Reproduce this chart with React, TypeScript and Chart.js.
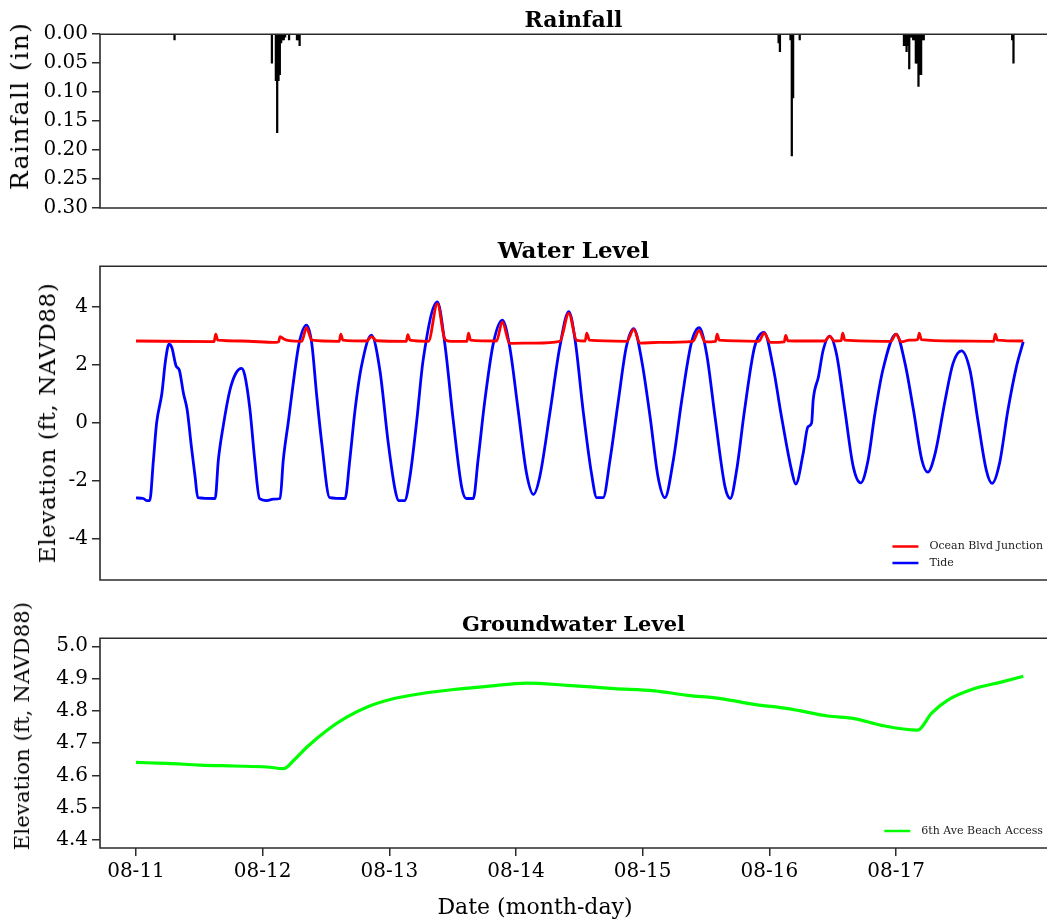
import React, { useEffect, useRef } from "react";
import { Chart, registerables } from "chart.js";

Chart.register(...registerables);

// ---------- shared x range (hours since 08-11 00:00) ----------
const X_MIN = -6.82;
const X_MAX = 172.6;
const dayTickHours = [0, 24, 48, 72, 96, 120, 144];
const dayTickLabels = ["08-11", "08-12", "08-13", "08-14", "08-15", "08-16", "08-17"];

// ---------- Rainfall ----------
const rainHours = [
  7.3, 25.75, 26.5, 26.75, 27.0, 27.25, 27.5, 27.75, 28.0, 28.25, 29.0, 30.5, 30.75, 31.0,
  121.75, 122.0, 124.0, 124.25, 124.5, 125.75,
  145.5, 145.75, 146.0, 146.25, 146.5, 146.75, 147.0, 147.25, 147.5, 147.75, 148.0, 148.25,
  148.5, 148.75, 149.0, 149.25, 166.0, 166.25,
];
const rainInches = [
  0.01, 0.05, 0.08, 0.17, 0.08, 0.07, 0.015, 0.01, 0.01, 0.005, 0.01, 0.01, 0.01, 0.02,
  0.015, 0.03, 0.01, 0.21, 0.11, 0.01,
  0.02, 0.02, 0.03, 0.02, 0.06, 0.005, 0.005, 0.01, 0.01, 0.05, 0.05, 0.09,
  0.07, 0.07, 0.01, 0.01, 0.01, 0.05,
];
const rainTicks = [0, 0.05, 0.1, 0.15, 0.2, 0.25, 0.3];
const rainTickLabels = ["0.00", "0.05", "0.10", "0.15", "0.20", "0.25", "0.30"];

// ---------- Water level ----------
const tideHours = [
  0, 1.4, 2.0, 2.6, 3.3, 3.9, 4.9, 5.6, 6.25, 6.8, 7.6, 8.2, 9.0, 9.7, 10.5, 11.2, 11.7,
  15.0, 15.6, 16.5, 17.8, 18.9, 20.0, 20.6, 21.6, 22.5, 23.4, 24.8, 26.0, 27.3,
  27.9, 28.9, 29.7, 30.9, 32.3, 33.3, 34.2, 35.2, 36.7, 39.6,
  40.5, 41.5, 42.7, 44.6, 46.2, 47.8, 49.1, 49.7, 50.9,
  51.9, 53.2, 54.4, 57.1, 58.5, 60.1, 61.7, 62.6, 63.9,
  64.8, 66.1, 67.7, 69.4, 70.8, 72.4, 74.0, 75.3,
  76.5, 78.4, 80.3, 82.0, 83.2, 84.7, 86.3, 87.3, 88.5,
  89.8, 91.4, 92.9, 94.3, 95.8, 97.4, 98.9, 100.2,
  101.8, 103.4, 105.2, 106.7, 108.1, 109.7, 111.6, 112.6,
  113.8, 115.3, 117.2, 119.0, 120.7, 122.3, 124.2, 125.0,
  126.4, 127.3, 128.0, 128.3, 129.3, 130.2, 131.4, 132.7, 134.3, 135.9, 137.3,
  138.7, 140.0, 141.5, 144.0, 145.7, 147.3, 148.9, 150.0,
  151.4, 153.3, 154.8, 156.4, 158.0, 159.5, 161.1, 162.2,
  163.6, 165.2, 166.8, 168.1,
];
const tideFeet = [
  -2.58, -2.6, -2.67, -2.67, -1.28, 0, 1.02, 2.17, 2.72, 2.6, 1.97, 1.83, 1.02, 0.45, -0.82, -1.85, -2.57,
  -2.6, -1.28, -0.13, 1.14, 1.71, 1.89, 1.66, 0.45, -1.28, -2.6, -2.67, -2.62, -2.6,
  -1.28, 0.1, 1.25, 2.75, 3.38, 2.75, 1.02, -0.7, -2.57, -2.6,
  -1.28, 0.45, 1.94, 3.03, 1.83, -0.7, -2.31, -2.67, -2.67,
  -1.85, 0.1, 2.17, 4.18, 2.75, 0.1, -2.2, -2.6, -2.6,
  -1.28, 0.79, 2.75, 3.55, 2.63, 0.45, -1.74, -2.46,
  -1.85, 0.33, 2.63, 3.84, 2.86, 0.45, -1.74, -2.57, -2.57,
  -1.28, 0.79, 2.63, 3.26, 2.17, 0.22, -1.85, -2.57,
  -1.28, 0.79, 2.75, 3.29, 2.4, 0.22, -2.2, -2.6,
  -1.62, 0.45, 2.63, 3.13, 1.94, 0.22, -1.62, -2.1,
  -1.05, -0.13, 0, 0.79, 1.6, 2.52, 3.0, 2.4, 0.45, -1.51, -2.06,
  -1.28, 0.33, 1.83, 3.07, 2.06, 0.45, -1.28, -1.69,
  -1.05, 0.79, 2.06, 2.49, 1.83, 0.1, -1.62, -2.08,
  -1.39, 0.45, 1.94, 2.8,
];
const oceanHours = [
  0, 14.8, 15.1, 15.5, 20, 26.5, 27.0, 27.3, 28.0, 29.0, 31.4, 32.3, 33.3,
  38.5, 38.8, 39.2, 43.7, 44.6, 45.6, 51.2, 51.5, 51.9, 55.4, 57.1, 58.5, 59.2,
  62.7, 63.0, 63.4, 68.3, 69.4, 70.8, 75.5, 80.3, 82.0, 83.5, 85.1, 85.4, 85.9,
  93.0, 94.3, 95.5, 99.0, 105.5, 106.7, 107.8, 109.8, 110.1, 110.5,
  118.0, 119.0, 120.2, 122.8, 123.1, 123.5, 130.5, 131.4, 132.3, 133.6, 133.9, 134.3,
  143.0, 144.0, 145.0, 146.5, 148.1, 148.4, 148.8, 155, 162.5, 162.8, 163.2, 168.1,
];
const oceanFeet = [
  2.83, 2.81, 3.07, 2.86, 2.83, 2.78, 2.8, 2.98, 2.9, 2.84, 2.82, 3.29, 2.86,
  2.82, 3.07, 2.86, 2.83, 2.98, 2.84, 2.82, 3.05, 2.86, 2.82, 4.12, 2.9, 2.83,
  2.82, 3.1, 2.86, 2.83, 3.49, 2.75, 2.76, 2.82, 3.78, 2.85, 2.83, 3.1, 2.86,
  2.82, 3.23, 2.76, 2.78, 2.82, 3.2, 2.8, 2.82, 3.07, 2.86,
  2.82, 3.1, 2.78, 2.8, 3.02, 2.84, 2.83, 3.0, 2.83, 2.84, 3.1, 2.86,
  2.82, 3.07, 2.8, 2.86, 2.88, 3.1, 2.88, 2.83, 2.82, 3.07, 2.86, 2.83,
];
const waterTicks = [-4, -2, 0, 2, 4];
const waterTickLabels = ["-4", "-2", "0", "2", "4"];

// ---------- Groundwater ----------
const gwHours = [
  0, 5.9, 12.2, 18.5, 24.8, 28.0, 29.9, 32.4, 36.2, 40, 43.8, 48.9, 53.9, 60.2, 66.5,
  74.1, 81.7, 90.6, 98.2, 104.5, 110.8, 117.1, 123.5, 131.1, 136.1, 141.2, 148.1,
  150.7, 153.8, 158.9, 163.9, 168.1,
];
const gwFeet = [
  4.64, 4.637, 4.632, 4.629, 4.626, 4.621, 4.647, 4.688, 4.74, 4.781, 4.812, 4.838, 4.853, 4.866, 4.876,
  4.886, 4.879, 4.869, 4.862, 4.848, 4.838, 4.82, 4.807, 4.784, 4.776, 4.755, 4.74,
  4.792, 4.833, 4.869, 4.889, 4.907,
];
const gwTicks = [4.4, 4.5, 4.6, 4.7, 4.8, 4.9, 5.0];
const gwTickLabels = ["4.4", "4.5", "4.6", "4.7", "4.8", "4.9", "5.0"];

// ---------- styling ----------
const SERIF = "'DejaVu Serif', serif";
const FRAME = "#2b2b2b";

const framePlugin = {
  id: "frame",
  afterDatasetsDraw(chart: any) {
    const { ctx, chartArea } = chart;
    const { left, top, right, bottom } = chartArea;
    ctx.save();
    ctx.strokeStyle = FRAME;
    ctx.lineWidth = 1.6;
    ctx.beginPath();
    ctx.moveTo(right + 4, top);
    ctx.lineTo(left, top);
    ctx.lineTo(left, bottom);
    ctx.lineTo(right + 4, bottom);
    ctx.stroke();
    ctx.restore();
  },
};

const innerLegendPlugin = {
  id: "innerLegend",
  afterDraw(chart: any, _args: any, opts: any) {
    if (!opts || !opts.items) return;
    const { ctx, chartArea } = chart;
    ctx.save();
    ctx.font = `11px ${SERIF}`;
    ctx.textBaseline = "middle";
    const widths = opts.items.map((it: any) => ctx.measureText(it.text).width);
    const maxW = Math.max(...widths);
    const textX = chartArea.right - 4 - maxW;
    const n = opts.items.length;
    opts.items.forEach((it: any, i: number) => {
      const y = chartArea.bottom - 17 - (n - 1 - i) * 16.5;
      ctx.strokeStyle = it.color;
      ctx.lineWidth = 2.5;
      ctx.beginPath();
      ctx.moveTo(textX - 37, y);
      ctx.lineTo(textX - 11, y);
      ctx.stroke();
      ctx.fillStyle = "#222";
      ctx.fillText(it.text, textX, y);
    });
    ctx.restore();
  },
};

function titleOpts(text: string, size: number) {
  const lh = size * 1.2;
  const padTop = 34.2 - lh;
  return {
    display: true,
    text,
    fullSize: false,
    color: "#000",
    font: { family: SERIF, size, weight: "bold" as const },
    padding: { top: padTop, bottom: 0 },
  };
}

function yAxis(min: number, max: number, ticks: number[], labels: string[], reverse = false) {
  return {
    type: "linear" as const,
    min,
    max,
    reverse,
    afterFit: (s: any) => {
      s.width = 100;
      s.paddingTop = 0;
      s.paddingBottom = 0;
    },
    afterBuildTicks: (s: any) => {
      s.ticks = ticks.map((v) => ({ value: v }));
    },
    ticks: {
      color: "#000",
      font: { family: SERIF, size: 20 },
      padding: 4,
      autoSkip: false,
      callback: (_v: any, i: number) => labels[i],
    },
    grid: { drawOnChartArea: false, drawTicks: true, tickLength: 8, color: FRAME, lineWidth: 1.5 },
    border: { display: false },
    title: { display: false },
  };
}

function hiddenX() {
  return { type: "linear" as const, min: X_MIN, max: X_MAX, display: false, offset: false };
}

function useChart(ref: React.RefObject<HTMLCanvasElement>, build: () => any) {
  useEffect(() => {
    if (!ref.current) return;
    const chart = new Chart(ref.current, build());
    return () => chart.destroy();
  }, []);
}

function VLabel(props: { text: string; cx: number; cy: number; spacing: number; size: number }) {
  return (
    <div
      style={{
        position: "absolute",
        left: props.cx,
        top: props.cy,
        transform: "translate(-50%, -50%) rotate(-90deg)",
        whiteSpace: "nowrap",
        fontFamily: SERIF,
        fontSize: props.size,
        lineHeight: "26px",
        letterSpacing: props.spacing,
        color: "#000",
      }}
    >
      {props.text}
    </div>
  );
}

export default function App() {
  const rainRef = useRef<HTMLCanvasElement>(null);
  const waterRef = useRef<HTMLCanvasElement>(null);
  const gwRef = useRef<HTMLCanvasElement>(null);

  useChart(rainRef, () => ({
    type: "bar",
    data: {
      datasets: [
        {
          label: "Rainfall",
          data: rainHours.map((h, i) => ({ x: h, y: rainInches[i] })),
          backgroundColor: "#000",
          borderWidth: 0,
          barThickness: 1.6,
          grouped: false,
        },
      ],
    },
    options: {
      responsive: false,
      animation: false,
      layout: { padding: { left: 0, right: 0, top: 0, bottom: 14 } },
      plugins: { legend: { display: false }, tooltip: { enabled: false }, title: titleOpts("Rainfall", 22) },
      scales: {
        x: hiddenX(),
        y: yAxis(0, 0.3, rainTicks, rainTickLabels, true),
      },
    },
    plugins: [framePlugin],
  }));

  useChart(waterRef, () => ({
    type: "line",
    data: {
      datasets: [
        {
          label: "Ocean Blvd Junction",
          data: oceanHours.map((h, i) => ({ x: h, y: oceanFeet[i] })),
          borderColor: "#ff0000",
          borderWidth: 2.8,
          pointRadius: 0,
          cubicInterpolationMode: "monotone",
        },
        {
          label: "Tide",
          data: tideHours.map((h, i) => ({ x: h, y: tideFeet[i] })),
          borderColor: "#0000ff",
          borderWidth: 2.8,
          pointRadius: 0,
          cubicInterpolationMode: "monotone",
        },
      ],
    },
    options: {
      responsive: false,
      animation: false,
      layout: { padding: { left: 0, right: 0, top: 0, bottom: 4 } },
      plugins: {
        legend: { display: false },
        tooltip: { enabled: false },
        title: titleOpts("Water Level", 23),
        innerLegend: {
          items: [
            { text: "Ocean Blvd Junction", color: "#ff0000" },
            { text: "Tide", color: "#0000ff" },
          ],
        },
      },
      scales: {
        x: hiddenX(),
        y: yAxis(-5.41, 5.41, waterTicks, waterTickLabels),
      },
    },
    plugins: [framePlugin, innerLegendPlugin],
  }));

  useChart(gwRef, () => ({
    type: "line",
    data: {
      datasets: [
        {
          label: "6th Ave Beach Access",
          data: gwHours.map((h, i) => ({ x: h, y: gwFeet[i] })),
          borderColor: "#00ff00",
          borderWidth: 3.2,
          pointRadius: 0,
          cubicInterpolationMode: "monotone",
        },
      ],
    },
    options: {
      responsive: false,
      animation: false,
      layout: { padding: { left: 0, right: 0, top: 0, bottom: 0 } },
      plugins: {
        legend: { display: false },
        tooltip: { enabled: false },
        title: titleOpts("Groundwater Level", 21),
        innerLegend: { items: [{ text: "6th Ave Beach Access", color: "#00ff00" }] },
      },
      scales: {
        x: {
          type: "linear",
          min: X_MIN,
          max: X_MAX,
          offset: false,
          afterFit: (s: any) => {
            s.height = 74;
          },
          afterBuildTicks: (s: any) => {
            s.ticks = dayTickHours.map((v) => ({ value: v }));
          },
          ticks: {
            color: "#000",
            font: { family: SERIF, size: 20 },
            padding: 4,
            maxRotation: 0,
            autoSkip: false,
            callback: (_v: any, i: number) => dayTickLabels[i],
          },
          grid: { drawOnChartArea: false, drawTicks: true, tickLength: 8, color: FRAME, lineWidth: 1.5 },
          border: { display: false },
          title: { display: false },
        },
        y: yAxis(4.375, 5.025, gwTicks, gwTickLabels),
      },
    },
    plugins: [framePlugin, innerLegendPlugin],
  }));

  const wrap: React.CSSProperties = {
    position: "absolute",
    left: 0,
    top: 0,
    width: 1047,
    height: 922,
    background: "#fff",
    overflow: "hidden",
  };
  const cv = (top: number): React.CSSProperties => ({ position: "absolute", left: 0, top, display: "block" });

  return (
    <div style={wrap}>
      <canvas ref={rainRef} width={1047} height={222} style={cv(0)} />
      <canvas ref={waterRef} width={1047} height={352} style={cv(232)} />
      <canvas ref={gwRef} width={1047} height={318} style={cv(604)} />
      <VLabel text="Rainfall (in)" cx={20} cy={106} spacing={1.4} size={25} />
      <VLabel text="Elevation (ft, NAVD88)" cx={47} cy={423} spacing={0.6} size={23} />
      <VLabel text="Elevation (ft, NAVD88)" cx={22} cy={726} spacing={0.2} size={21} />
      <div
        style={{
          position: "absolute",
          left: 335,
          width: 400,
          top: 893,
          textAlign: "center",
          fontFamily: SERIF,
          fontSize: 22,
          lineHeight: "28px",
          color: "#000",
        }}
      >
        Date (month-day)
      </div>
    </div>
  );
}
